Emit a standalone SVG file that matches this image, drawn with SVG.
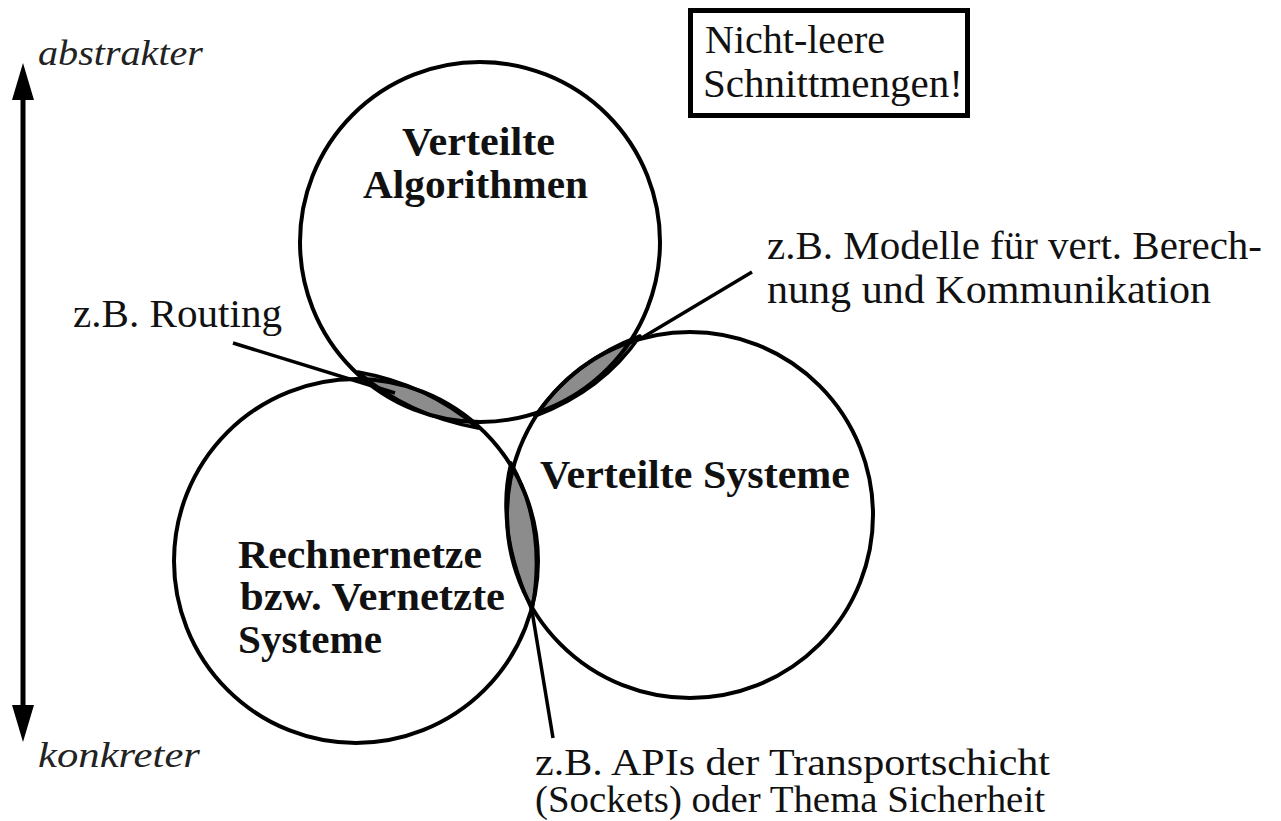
<svg xmlns="http://www.w3.org/2000/svg" width="1281" height="821" viewBox="0 0 1281 821">
  <defs>
    <marker id="head" viewBox="0 0 37 22" refX="0" refY="11" markerWidth="37" markerHeight="22" markerUnits="userSpaceOnUse" orient="auto-start-reverse">
      <path d="M0,0 L37,11 L0,22 Z" fill="#000"/>
    </marker>
    <style>
      .ring { fill: none; stroke: #000; stroke-width: 4; }
      .lens { fill: #8c8c8c; stroke: #000; stroke-width: 3.5; stroke-linejoin: round; }
      .lead { fill: none; stroke: #000; stroke-width: 3.5; }
      .axis { fill: none; stroke: #000; stroke-width: 5; }
      .frame { fill: #fff; stroke: #000; stroke-width: 5; }
      text { font-family: 'Liberation Serif', 'Times New Roman', serif; }
      .t { font-size: 40px; fill: #111; }
      .s { font-size: 37px; fill: #111; }
      .b { font-size: 40px; font-weight: bold; fill: #111; }
      .i { font-size: 36px; font-style: italic; fill: #222; }
    </style>
  </defs>
  <rect width="1281" height="821" fill="#fff"/>

  <!-- overlap areas between the three fields -->
  <g id="overlap-routing">
    <path class="lens" d="M358,372 C403,380 443,398 478,428 C433,420 393,402 358,372 Z"/>
  </g>
  <g id="overlap-models">
    <path class="lens" d="M535,416 C578,400 614,374 640,336 C597,352 562,378 535,416 Z"/>
  </g>
  <g id="overlap-apis">
    <path class="lens" d="M511,463 C535,506 542,555 532,610 C512,566 498,514 511,463 Z"/>
  </g>

  <!-- the three fields -->
  <g id="field-algorithms">
    <circle class="ring" cx="480" cy="242" r="180"/>
    <text class="b" x="402" y="155" textLength="153" lengthAdjust="spacingAndGlyphs">Verteilte</text>
    <text class="b" x="363" y="198" textLength="225" lengthAdjust="spacingAndGlyphs">Algorithmen</text>
  </g>
  <g id="field-networks">
    <circle class="ring" cx="356" cy="561" r="182"/>
    <text class="b" x="238" y="568" textLength="244" lengthAdjust="spacingAndGlyphs">Rechnernetze</text>
    <text class="b" x="240" y="610" textLength="265" lengthAdjust="spacingAndGlyphs">bzw. Vernetzte</text>
    <text class="b" x="238" y="653" textLength="144" lengthAdjust="spacingAndGlyphs">Systeme</text>
  </g>
  <g id="field-systems">
    <circle class="ring" cx="690" cy="515" r="183"/>
    <text class="b" x="540" y="488" textLength="310" lengthAdjust="spacingAndGlyphs">Verteilte Systeme</text>
  </g>

  <!-- connectors: leader lines and the abstraction axis -->
  <g id="connectors">
    <line class="lead" x1="233" y1="343" x2="395" y2="393"/>
    <line class="lead" x1="752" y1="272" x2="640" y2="339"/>
    <line class="lead" x1="531" y1="605" x2="553" y2="738"/>
    <line class="axis" x1="23" y1="100" x2="23" y2="705" marker-start="url(#head)" marker-end="url(#head)"/>
  </g>

  <g id="axis-labels">
    <text class="i" x="38" y="65" textLength="165" lengthAdjust="spacingAndGlyphs">abstrakter</text>
    <text class="i" x="38" y="767" textLength="162" lengthAdjust="spacingAndGlyphs">konkreter</text>
  </g>

  <g id="note">
    <rect class="frame" x="690.5" y="10.5" width="277" height="105"/>
    <text class="t" x="705" y="53" textLength="180" lengthAdjust="spacingAndGlyphs">Nicht-leere</text>
    <text class="t" x="703" y="97" textLength="260" lengthAdjust="spacingAndGlyphs">Schnittmengen!</text>
  </g>

  <g id="label-routing">
    <text class="t" x="73" y="327" textLength="209" lengthAdjust="spacingAndGlyphs">z.B. Routing</text>
  </g>
  <g id="label-models">
    <text class="t" x="767" y="259" textLength="495" lengthAdjust="spacingAndGlyphs">z.B. Modelle für vert. Berech-</text>
    <text class="t" x="767" y="303" textLength="444" lengthAdjust="spacingAndGlyphs">nung und Kommunikation</text>
  </g>
  <g id="label-apis">
    <text class="s" x="535" y="775" textLength="515" lengthAdjust="spacingAndGlyphs">z.B. APIs der Transportschicht</text>
    <text class="s" x="535" y="812" textLength="510" lengthAdjust="spacingAndGlyphs">(Sockets) oder Thema Sicherheit</text>
  </g>
</svg>
